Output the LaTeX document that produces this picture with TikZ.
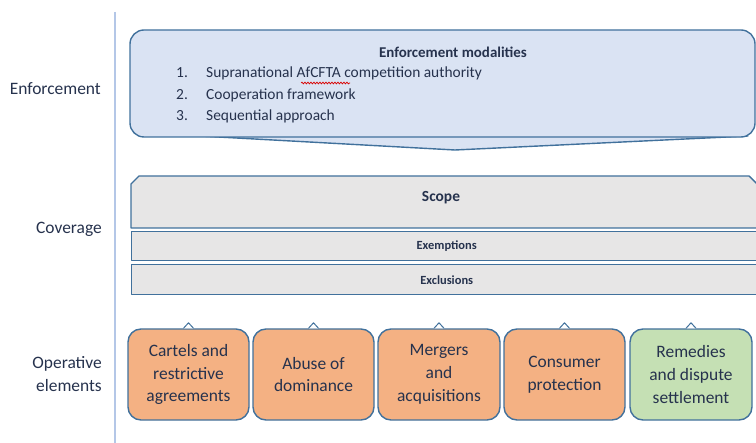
\documentclass[tikz,border=0pt]{standalone}
\usepackage{fontspec}
\setmainfont{Carlito}
\usetikzlibrary{decorations.pathmorphing}
\definecolor{txt}{HTML}{26324D}
\definecolor{edge}{HTML}{41719C}
\definecolor{rail}{HTML}{B4C7E7}
\definecolor{enffill}{HTML}{DAE3F3}
\definecolor{covfill}{HTML}{E7E6E6}
\definecolor{opfill}{HTML}{F4B183}
\definecolor{remfill}{HTML}{C5E0B4}
\begin{document}
\begin{tikzpicture}[x=1bp,y=-1bp,
  every node/.style={text=txt,font=\fontsize{17.5}{23}\selectfont},
  outline/.style={draw=edge,line width=1.4bp,line join=round},
  sidelabel/.style={anchor=east,align=right,inner sep=0},
  opbox/.style={outline,rounded corners=13bp,minimum width=121bp,minimum height=91bp,
    inner sep=0,align=center,fill=opfill},
  tab/.style={outline,fill=#1}
]
\useasboundingbox (0,0) rectangle (756,443);

% left rail and row labels
\coordinate (railtop) at (115,12);
\coordinate (railbot) at (115,443);
\draw[rail,line width=1.2bp] (railtop) -- (railbot);
\node[sidelabel] (lenf) at (101,89) {Enforcement};
\node[sidelabel] (lcov) at (102,229) {Coverage};
\node[sidelabel] (lop) at (102,374) {Operative\\elements};

% enforcement: rounded panel with a downward chevron
\filldraw[outline,fill=enffill] (200,136) -- (455,150) -- (748,136) -- cycle;
\filldraw[outline,fill=enffill,rounded corners=14bp] (130,30) rectangle (755,137);
\node[font=\fontsize{15}{18}\selectfont\bfseries] (enftitle) at (453,52) {Enforcement modalities};
\begin{scope}[every node/.append style={font=\fontsize{15.5}{18}\selectfont,inner sep=0}]
  \node[anchor=west] (n1) at (176,73) {1.};
  \node[anchor=west] (n2) at (176,95) {2.};
  \node[anchor=west] (n3) at (176,116) {3.};
  \node[anchor=west] (i1) at (206,73) {Supranational AfCFTA competition authority};
  \node[anchor=west] (i2) at (206,95) {Cooperation framework};
  \node[anchor=west] (i3) at (206,116) {Sequential approach};
\end{scope}
\coordinate (sqa) at (301,83);
\coordinate (sqb) at (350,83);
\draw[red!85!black,line width=0.7bp,decorate,
  decoration={snake,amplitude=0.9bp,segment length=3bp}] (sqa) -- (sqb);

% coverage: scope panel with snipped top corners, then two bands
\filldraw[outline,fill=covfill] (131,228) -- (131,184) -- (139,176) -- (749,176)
  -- (757,184) -- (757,228) -- cycle;
\node[font=\fontsize{15.5}{18}\selectfont\bfseries] (scope) at (441,198) {Scope};
\node[tab=covfill,minimum width=630bp,minimum height=29bp,anchor=north west,inner sep=0]
  (exempt) at (131,231) {};
\node[font=\fontsize{12.5}{15}\selectfont\bfseries] at (exempt.center) {Exemptions};
\node[tab=covfill,minimum width=630bp,minimum height=30bp,anchor=north west,inner sep=0]
  (exclu) at (131,264) {};
\node[font=\fontsize{12.5}{15}\selectfont\bfseries] at (exclu.center) {Exclusions};

% operative elements, each with a small tab on its top edge
\node[opbox] (cartels) at (188.5,374.5) {Cartels and\\restrictive\\agreements};
\node[opbox] (abuse) at (313.5,374.5) {Abuse of\\dominance};
\node[opbox,minimum width=122bp] (merger) at (439,374.5) {Mergers\\and\\acquisitions};
\node[opbox] (consumer) at (564.5,374.5) {Consumer\\protection};
\node[opbox,minimum width=122bp,fill=remfill] (remedy) at (691,374.5) {Remedies\\and dispute\\settlement};
\foreach \b in {cartels,abuse,merger,consumer,remedy}{
  \draw[outline,line width=1bp,fill=white] ([xshift=-5bp]\b.north) -- ([yshift=5.5bp]\b.north)
    -- ([xshift=5bp]\b.north);
}
\end{tikzpicture}
\end{document}
